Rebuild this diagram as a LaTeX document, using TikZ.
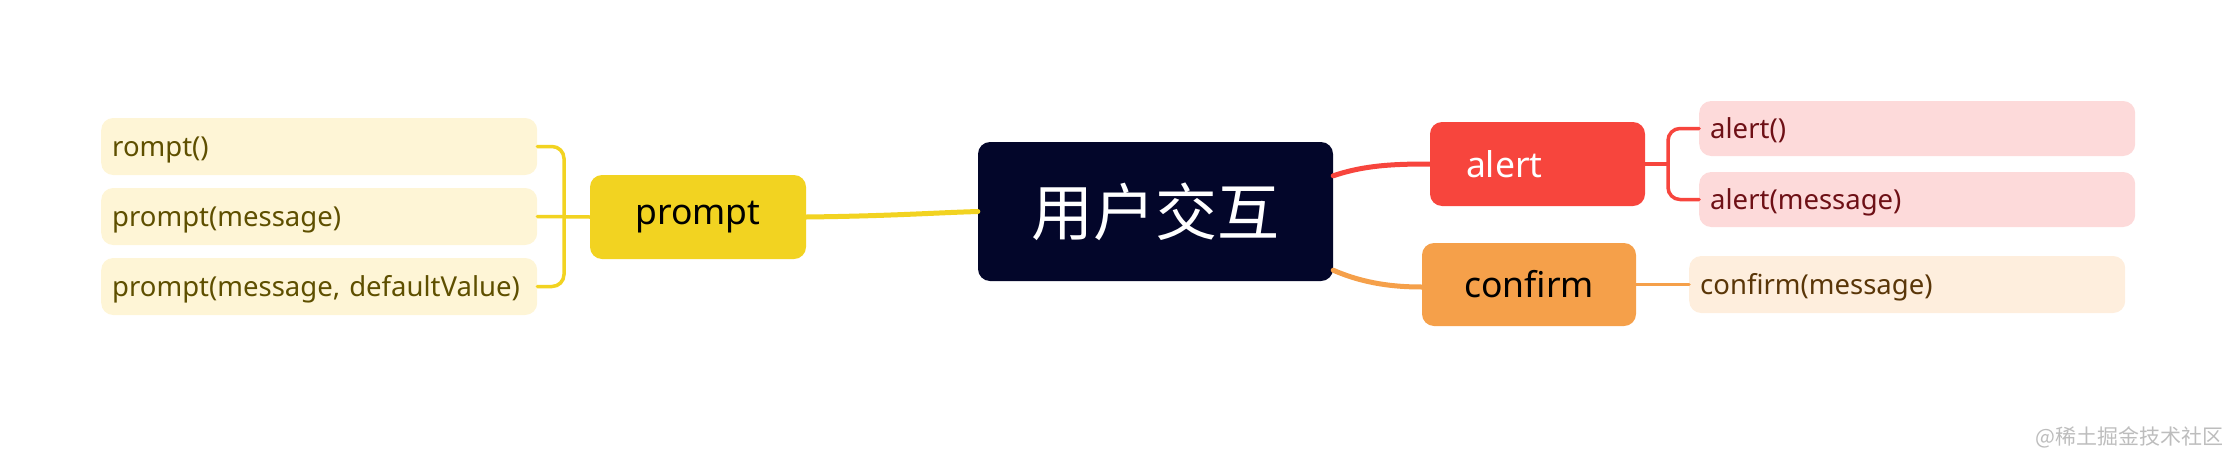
\documentclass[tikz,border=0pt]{standalone}
\usepackage{fontspec}
\setmainfont{Noto Sans}
\newfontfamily\cjk{Noto Sans CJK SC}
\usetikzlibrary{calc}
\definecolor{navy}{HTML}{03062A}
\definecolor{gold}{HTML}{F2D321}
\definecolor{goldleaf}{HTML}{FEF5D6}
\definecolor{goldtext}{HTML}{5E4F00}
\definecolor{redc}{HTML}{F7453D}
\definecolor{redleaf}{HTML}{FDDADA}
\definecolor{redtext}{HTML}{6E1016}
\definecolor{orangec}{HTML}{F5A04A}
\definecolor{orangeleaf}{HTML}{FEEEDD}
\definecolor{orangetext}{HTML}{5A3608}
\definecolor{wmgray}{HTML}{BDBDBD}
\tikzset{
  leafbox/.style={rounded corners=12pt, minimum height=#1, inner xsep=11pt, inner ysep=0pt,
    text width=414pt, text height=23pt, text depth=4pt, align=left, anchor=west,
    font=\fontsize{27.5}{31}\selectfont},
  branchbox/.style={rounded corners=12pt, inner sep=0pt, font=\fontsize{35.5}{40}\selectfont},
  conn/.style={line width=5pt, line cap=round},
  thin conn/.style={line width=3.5pt, line cap=round},
}
\begin{document}
\begin{tikzpicture}[x=1pt,y=-1pt]
\useasboundingbox (0,0) rectangle (2229,453);
% center
\node[fill=navy, rounded corners=12pt, minimum width=355pt, minimum height=139pt, inner sep=0pt,
  text=white, font=\cjk\fontsize{62}{66}\selectfont] (center) at (1155.5,211.5) {用户交互};
% prompt branch
\node[branchbox, fill=gold, minimum width=216pt, minimum height=84pt, text=black] (prompt) at (698,217) {prompt};
\node[leafbox=57pt, fill=goldleaf, text=goldtext] (pl1) at (101,146.5) {rompt()};
\node[leafbox=57pt, fill=goldleaf, text=goldtext] (pl2) at (101,216.5) {prompt(message)};
\node[leafbox=57pt, fill=goldleaf, text=goldtext] (pl3) at (101,286.5) {prompt(message, defaultValue)};
% alert branch
\node[branchbox, fill=redc, minimum width=215pt, minimum height=84pt, text=white,
  text width=143pt, inner xsep=36pt, align=left] (alert) at (1537.5,164) {alert};
\node[leafbox=55pt, fill=redleaf, text=redtext] (al1) at (1699,128.5) {alert()};
\node[leafbox=55pt, fill=redleaf, text=redtext] (al2) at (1699,199.5) {alert(message)};
% confirm branch
\node[branchbox, fill=orangec, minimum width=214pt, minimum height=83pt, text=black] (confirm) at (1529,284.5) {confirm};
\node[leafbox=57pt, fill=orangeleaf, text=orangetext] (cl1) at (1689,284.5) {confirm(message)};
% connectors
\coordinate (pb) at (564,216.5);
\coordinate (ab) at (1668,164);
\draw[thin conn, gold, rounded corners=12pt] (pl1.east) -| (pb) |- (pl3.east);
\draw[thin conn, gold] (pl2.east) -- (prompt.west);
\draw[conn, gold] (prompt.east) .. controls (890,216) and (930,213) .. (center.west);
\draw[conn, redc] ($(center.north east)+(0,34)$) .. controls (1365,165) and (1395,164) .. (alert.west);
\draw[conn, orangec] ($(center.south east)+(0,-11)$) .. controls (1365,284) and (1395,287) .. ($(confirm.west)+(0,2.5)$);
\draw[thin conn, redc, rounded corners=12pt] (al1.west) -| (ab) |- (al2.west);
\draw[thin conn, redc] (alert.east) -- (ab);
\draw[thin conn, orangec] (confirm.east) -- (cl1.west);
% watermark
\node[anchor=east, inner sep=0pt, text=wmgray, font=\cjk\fontsize{21}{24}\selectfont] (wm) at (2224,437) {@稀土掘金技术社区};
\end{tikzpicture}
\end{document}
